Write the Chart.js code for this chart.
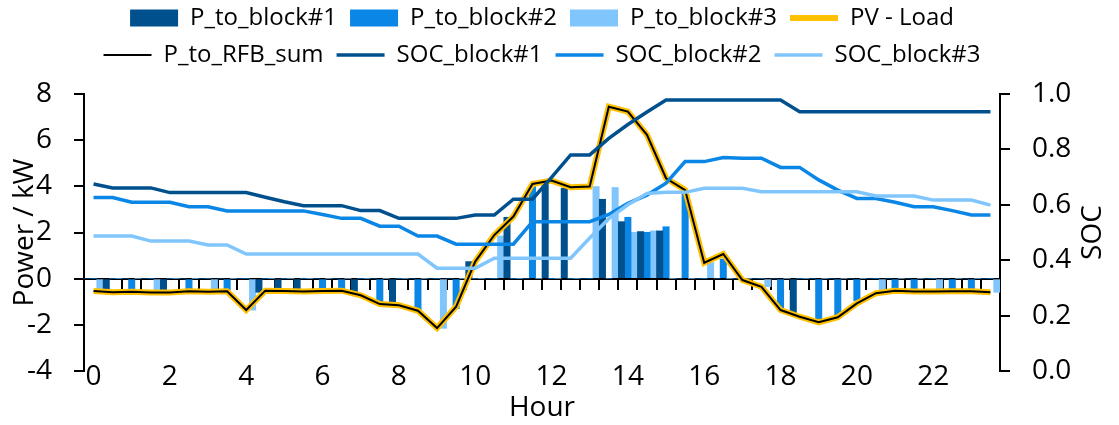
<!DOCTYPE html>
<html>
<head>
<meta charset="utf-8">
<script src="https://cdn.jsdelivr.net/npm/chart.js@4.4.1/dist/chart.umd.min.js"></script>
<style>
  body { margin: 0; background: #fff; }
</style>
</head>
<body>
<canvas id="rfb" width="1119" height="425"></canvas>
<script>
// half-hour slots
const hours = [0, 0.5, 1, 1.5, 2, 2.5, 3, 3.5, 4, 4.5, 5, 5.5, 6, 6.5, 7, 7.5,
  8, 8.5, 9, 9.5, 10, 10.5, 11, 11.5, 12, 12.5, 13, 13.5, 14, 14.5, 15, 15.5,
  16, 16.5, 17, 17.5, 18, 18.5, 19, 19.5, 20, 20.5, 21, 21.5, 22, 22.5, 23, 23.5];

const pBlock1 = [0, -0.46, 0, 0, -0.5, 0, 0, 0, 0, -0.59, -0.59, -0.59, 0, 0, -0.59, 0,
  -1.07, 0, 0, 0, 0.74, 0, 2.66, 0, 4.13, 3.92, 0, 3.44, 2.47, 2.04, 2.07, 0,
  0, 0, 0, 0, 0, -1.55, 0, 0, 0, 0, 0, 0, 0, 0, 0, 0];
const pBlock2 = [0, 0, -0.46, 0, 0, -0.46, 0, -0.5, 0, 0, 0, 0, -0.42, -0.42, 0, -1.11,
  0, -1.36, 0, -1.3, 0, 0, 0, 3.99, 0, 0, 0, 0, 2.66, 2.01, 2.25, 3.77,
  0, 0.85, 0, 0, -1.36, 0, -1.86, -1.57, -0.95, 0, -0.53, -0.53, 0, -0.5, -0.5, 0];
const pBlock3 = [-0.46, 0, 0, -0.5, 0, 0, -0.46, 0, -1.36, 0, 0, 0, 0, 0, 0, 0,
  0, 0, -2.15, 0, 0, 1.85, 0, 0, 0, 0, 3.99, 3.95, 2.01, 2.07, 0, 0,
  0.7, 0, 0, -0.35, 0, 0, 0, 0, 0, -0.53, 0, 0, -0.49, 0, 0, -0.59];

const pvLoad = [-0.53, -0.59, -0.57, -0.6, -0.6, -0.55, -0.57, -0.55, -1.36, -0.52, -0.53, -0.56, -0.53, -0.52, -0.72, -1.1,
  -1.15, -1.39, -2.14, -1.21, 0.74, 1.89, 2.69, 4.1, 4.25, 3.96, 3.99, 7.45, 7.24, 6.23, 4.35, 3.84,
  0.69, 1.07, -0.06, -0.35, -1.36, -1.65, -1.89, -1.67, -1.07, -0.63, -0.52, -0.56, -0.56, -0.55, -0.54, -0.59];
const rfbSum = [-0.53, -0.59, -0.57, -0.6, -0.6, -0.55, -0.57, -0.55, -1.36, -0.52, -0.53, -0.56, -0.53, -0.52, -0.72, -1.1,
  -1.15, -1.39, -2.14, -1.21, 0.74, 1.89, 2.69, 4.1, 4.25, 3.96, 3.99, 7.45, 7.24, 6.23, 4.35, 3.84,
  0.69, 1.07, -0.06, -0.35, -1.36, -1.65, -1.89, -1.67, -1.07, -0.63, -0.52, -0.56, -0.56, -0.55, -0.54, -0.59];

const soc1 = [0.675, 0.661, 0.661, 0.661, 0.644, 0.644, 0.644, 0.644, 0.644, 0.627, 0.611, 0.597, 0.597, 0.597, 0.579, 0.579,
  0.551, 0.551, 0.551, 0.551, 0.563, 0.563, 0.62, 0.62, 0.699, 0.78, 0.78, 0.84, 0.89, 0.935, 0.978, 0.978,
  0.978, 0.978, 0.978, 0.978, 0.978, 0.936, 0.936, 0.936, 0.936, 0.936, 0.936, 0.936, 0.936, 0.936, 0.936, 0.936];
const soc2 = [0.626, 0.626, 0.609, 0.609, 0.609, 0.593, 0.593, 0.578, 0.578, 0.578, 0.578, 0.578, 0.565, 0.551, 0.551, 0.523,
  0.523, 0.487, 0.487, 0.458, 0.458, 0.458, 0.458, 0.539, 0.539, 0.539, 0.539, 0.565, 0.605, 0.635, 0.678, 0.756,
  0.756, 0.771, 0.768, 0.768, 0.735, 0.735, 0.69, 0.653, 0.623, 0.623, 0.609, 0.593, 0.593, 0.579, 0.563, 0.563];
const soc3 = [0.487, 0.487, 0.487, 0.469, 0.469, 0.469, 0.455, 0.455, 0.422, 0.422, 0.422, 0.422, 0.422, 0.422, 0.422, 0.422,
  0.422, 0.422, 0.371, 0.371, 0.371, 0.407, 0.407, 0.407, 0.407, 0.407, 0.48, 0.55, 0.6, 0.641, 0.645, 0.645,
  0.66, 0.66, 0.66, 0.647, 0.647, 0.647, 0.647, 0.647, 0.647, 0.632, 0.632, 0.632, 0.617, 0.617, 0.617, 0.599];

const powerTicks = [-4, -2, 0, 2, 4, 6, 8];
const socTicks = [0, 0.2, 0.4, 0.6, 0.8, 1.0];

const dark = '#00508e';
const mid = '#0a86e6';
const light = '#80c6fc';

Chart.defaults.font.family = "'Open Sans', sans-serif";
Chart.defaults.color = '#000';

const bar = (label, data, color) => ({
  type: 'bar', label: label, data: data, backgroundColor: color,
  borderWidth: 0, barPercentage: 1, categoryPercentage: 1,
  pointStyle: 'rect', yAxisID: 'y', order: 10
});
const line = (label, data, color, width, axis, order) => ({
  type: 'line', label: label, data: data, borderColor: color, backgroundColor: color,
  borderWidth: width, pointRadius: 0, tension: 0, pointStyle: 'line',
  yAxisID: axis, order: order
});

// excel writes the secondary axis title bottom-to-top, chart.js can't rotate it that way
const socTitle = {
  id: 'socTitle',
  afterDraw(chart) {
    const s = chart.scales.y1;
    const c = chart.ctx;
    c.save();
    c.translate(s.right - 26, (s.top + s.bottom) / 2);
    c.rotate(-Math.PI / 2);
    c.font = "28px 'Open Sans', sans-serif";
    c.fillStyle = '#000';
    c.textAlign = 'center';
    c.textBaseline = 'middle';
    c.fillText('SOC', 0, 0);
    c.restore();
  }
};

const ctx = document.getElementById('rfb');
const rfb = new Chart(ctx, {
  type: 'bar',
  data: {
    labels: hours,
    datasets: [
      bar('P_to_block#1', pBlock1, dark),
      bar('P_to_block#2', pBlock2, mid),
      bar('P_to_block#3', pBlock3, light),
      line('PV - Load', pvLoad, '#ffc000', 6, 'y', 5),
      line('P_to_RFB_sum', rfbSum, '#000', 2, 'y', 4),
      line('SOC_block#1', soc1, dark, 3.5, 'y1', 3),
      line('SOC_block#2', soc2, mid, 3.5, 'y1', 2),
      line('SOC_block#3', soc3, light, 3.5, 'y1', 1)
    ]
  },
  options: {
    responsive: false,
    animation: false,
    devicePixelRatio: 1,
    layout: { padding: { top: -7, left: 0, right: 0, bottom: 0 } },
    plugins: {
      legend: {
        position: 'top',
        fullSize: false,
        labels: {
          usePointStyle: true,
          pointStyleWidth: 48,
          boxHeight: 17,
          padding: 13,
          font: { size: 24 },
          sort: (a, b) => a.datasetIndex - b.datasetIndex
        }
      },
      subtitle: {
        display: true, text: '', weight: 500,
        font: { size: 10 }, padding: { top: 0, bottom: 5 }
      },
      tooltip: { enabled: false }
    },
    scales: {
      x: {
        type: 'category',
        offset: true,
        grid: { display: false, drawTicks: false },
        border: { display: false },
        ticks: {
          autoSkip: false, maxRotation: 0, mirror: true, padding: -23,
          font: { size: 28 },
          callback: function (v, i) { return hours[i] % 2 === 0 ? String(hours[i]) : ''; }
        },
        title: { display: true, text: 'Hour', font: { size: 28 }, padding: { top: 0, bottom: 0 } },
        afterFit: (s) => { s.height = 54; }
      },
      xz: {
        type: 'category',
        axis: 'x',
        position: { y: 0 },
        offset: true,
        grid: { offset: true, drawOnChartArea: false, drawTicks: true, tickLength: 10, color: '#000', lineWidth: 2 },
        border: { display: true, color: '#000', width: 2 },
        ticks: { display: false, autoSkip: false }
      },
      y: {
        position: 'left',
        min: -4, max: 8,
        afterBuildTicks: (s) => { s.ticks = powerTicks.map(v => ({ value: v })); },
        grid: { drawOnChartArea: false, tickLength: 10, color: '#000', lineWidth: 2 },
        border: { color: '#000', width: 2 },
        ticks: { padding: 22, font: { size: 28 } },
        title: { display: true, text: 'Power / kW', font: { size: 28 }, padding: { top: 8, bottom: 0 } },
        afterFit: (s) => { s.width = 84; }
      },
      y1: {
        position: 'right',
        min: 0, max: 1,
        afterBuildTicks: (s) => { s.ticks = socTicks.map(v => ({ value: v })); },
        grid: { drawOnChartArea: false, tickLength: 10, color: '#000', lineWidth: 2 },
        border: { color: '#000', width: 2 },
        ticks: { padding: 22, font: { size: 28 }, callback: (v) => v.toFixed(1) },
        afterFit: (s) => { s.width = 119; }
      }
    }
  },
  plugins: [socTitle]
});
</script>
</body>
</html>
